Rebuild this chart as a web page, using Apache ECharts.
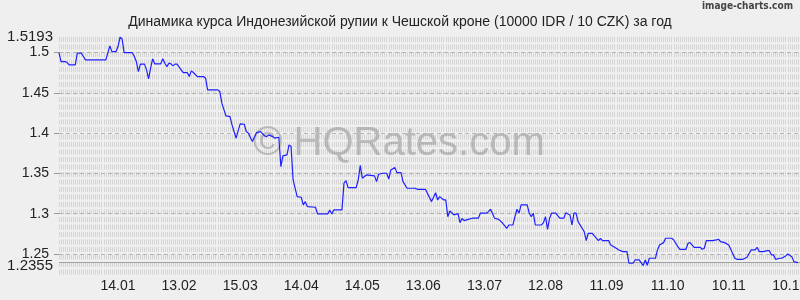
<!DOCTYPE html>
<html><head><meta charset="utf-8">
<script src="https://cdn.jsdelivr.net/npm/echarts@6/dist/echarts.min.js"></script>
<style>html,body{margin:0;padding:0;background:#efefef}#c{width:800px;height:300px}</style>
</head><body><div id="c"></div>
<script>
// Day offsets from 16.12.2013 and rate values (10000 IDR / 10 CZK)
const dayIndex = [
  0,1,3,4,5,8,9,11,13,23,
  25,26,28,29,30,31,32,36,37,38,
  39,40,42,43,44,45,46,47,50,51,
  52,53,54,55,56,57,58,61,63,64,
  65,66,68,71,72,73,78,79,80,82,
  84,85,87,88,89,91,92,93,95,97,
  99,101,102,103,105,106,108,109,110,112,
  113,114,115,117,119,120,121,122,126,127,
  132,133,134,135,139,140,141,142,146,147,
  148,149,151,155,156,157,159,161,162,163,
  165,166,168,169,171,175,176,180,183,184,
  185,186,187,189,190,191,192,194,196,197,
  198,199,201,203,206,207,210,211,212,214,
  216,218,220,221,223,224,225,226,227,230,
  231,232,233,234,237,238,239,240,241,242,
  244,246,248,249,251,252,253,254,255,257,
  258,259,260,262,263,265,266,267,270,271,
  273,275,277,279,280,282,283,285,287,288,
  289,290,293,294,295,297,298,301,302,304,
  305,308,309,310,312,315,316,317,318,321,
  323,324,325,327,329,330,332,333,336,337,
  338,340,342,343,344,346,348,349,350,351,
  352,354,355,357,358,360,361,363
];
const rate = [
  1.5000,1.4888,1.4888,1.4876,1.4847,1.4847,1.4992,1.4992,1.4909,1.4909,
  1.5083,1.5012,1.5012,1.5075,1.5193,1.5166,1.5000,1.5000,1.4950,1.4888,
  1.4764,1.4856,1.4856,1.4785,1.4673,1.4806,1.4922,1.4860,1.4860,1.4922,
  1.4868,1.4826,1.4868,1.4860,1.4835,1.4856,1.4856,1.4752,1.4752,1.4702,
  1.4773,1.4752,1.4702,1.4702,1.4682,1.4537,1.4537,1.4516,1.4372,1.4214,
  1.4205,1.4102,1.3937,1.4028,1.4115,1.4110,1.4020,1.4000,1.3895,1.4006,
  1.4019,1.3966,1.3957,1.3978,1.3957,1.3937,1.3949,1.3584,1.3717,1.3730,
  1.3854,1.3834,1.3419,1.3212,1.3204,1.3110,1.3150,1.3088,1.3080,1.2997,
  1.2997,1.3047,1.2997,1.3047,1.3047,1.3378,1.3410,1.3324,1.3324,1.3420,
  1.3600,1.3440,1.3481,1.3469,1.3398,1.3490,1.3502,1.3502,1.3430,1.3543,
  1.3572,1.3510,1.3510,1.3398,1.3316,1.3316,1.3303,1.3303,1.3150,1.3205,
  1.3261,1.3170,1.3212,1.3171,1.3171,1.2963,1.3034,1.2985,1.3000,1.2889,
  1.2940,1.2914,1.2930,1.2944,1.2944,1.3006,1.3006,1.3026,1.3055,1.2944,
  1.2930,1.2881,1.2819,1.2860,1.2860,1.2963,1.3055,1.3006,1.3109,1.3109,
  1.3006,1.2963,1.3006,1.2860,1.2860,1.2889,1.2963,1.2806,1.2944,1.3006,
  1.3006,1.2944,1.2944,1.3013,1.2985,1.2860,1.3006,1.3006,1.2902,1.2819,
  1.2777,1.2666,1.2757,1.2757,1.2724,1.2666,1.2695,1.2666,1.2666,1.2612,
  1.2583,1.2550,1.2529,1.2529,1.2385,1.2385,1.2426,1.2426,1.2355,1.2426,
  1.2360,1.2447,1.2447,1.2550,1.2612,1.2641,1.2695,1.2695,1.2674,1.2591,
  1.2558,1.2558,1.2633,1.2641,1.2583,1.2583,1.2558,1.2571,1.2666,1.2666,
  1.2674,1.2683,1.2654,1.2641,1.2612,1.2558,1.2447,1.2434,1.2434,1.2447,
  1.2459,1.2550,1.2550,1.2583,1.2529,1.2529,1.2541,1.2541,1.2488,1.2488,
  1.2434,1.2447,1.2447,1.2476,1.2500,1.2467,1.2405,1.2392
];
const xTickDays = [29,59,89,119,149,179,209,239,269,299,329,359];
const xTickLabels = ['14.01','13.02','15.03','14.04','14.05','13.06','13.07','12.08','11.09','11.10','10.11','10.12'];
const yTicks = [1.25,1.3,1.35,1.4,1.45,1.5];
const yExtremes = [1.2355,1.5193];
const title = 'Динамика курса Индонезийской рупии к Чешской кроне (10000 IDR / 10 CZK) за год';

const yMin = 1.2233, yMax = 1.5193;
const seriesData = dayIndex.map((d, i) => [d, rate[i]]);
const labelMap = {};
xTickDays.forEach((d, i) => { labelMap[d] = xTickLabels[i]; });

const FONT = '"Liberation Sans", Arial, sans-serif';
const chart = echarts.init(document.getElementById('c'), null, {renderer: 'canvas'});
chart.setOption({
  backgroundColor: '#efefef',
  animation: false,
  title: {
    text: title, left: 'center', top: 10,
    textStyle: {fontFamily: FONT, fontSize: 14, fontWeight: 'normal', color: '#222'}
  },
  graphic: [
    {type: 'text', right: 7, top: 1, z: 10,
     style: {text: 'image-charts.com', font: 'bold 10px "DejaVu Sans Condensed", sans-serif', fill: '#444'}},
    {type: 'text', left: 253, top: 124, z: 1, silent: true,
     style: {text: '© HQRates.com', font: '40px "Liberation Sans", Arial, sans-serif', fill: 'rgba(140,140,140,0.5)'}}
  ],
  grid: {left: 59, top: 37, width: 743, height: 238.5, outerBoundsMode: 'none', containLabel: false},
  xAxis: {
    type: 'value', min: 0, max: 365, interval: 1,
    axisLine: {show: false}, axisTick: {show: false},
    axisLabel: {customValues: xTickDays, formatter: v => labelMap[v] || '',
      fontFamily: FONT, fontSize: 14, color: '#222', margin: 4, hideOverlap: false},
    splitLine: {show: true, lineStyle: {color: '#d5d5d5', width: 1, type: [5, 2.5]}}
  },
  yAxis: [
    {type: 'value', min: yMin, max: yMax,
     axisLine: {show: false},
     axisTick: {show: true, customValues: yTicks, length: 5, lineStyle: {color: '#999'}},
     axisLabel: {customValues: yTicks, formatter: v => String(+v.toFixed(4)), fontFamily: FONT, fontSize: 14, color: '#222', margin: 10},
     splitLine: {show: false}},
    {type: 'value', min: yMin, max: yMax, position: 'left',
     axisLine: {show: false}, axisTick: {show: false},
     axisLabel: {customValues: yExtremes, formatter: v => String(+v.toFixed(4)), fontFamily: FONT, fontSize: 15, color: '#222', margin: 6},
     splitLine: {show: false}}
  ],
  series: [{
    type: 'line', data: seriesData, yAxisIndex: 0, z: 5,
    showSymbol: false, symbol: 'none',
    lineStyle: {color: '#2020ff', width: 1.2},
    markLine: {
      silent: true, symbol: 'none', label: {show: false},
      lineStyle: {color: '#b4b4b4', type: [4, 3], width: 1},
      data: yTicks.map(v => ({yAxis: v})).concat([{yAxis: yExtremes[0], lineStyle: {color: '#a0a0a0', type: 'solid'}}])
    }
  }]
});
</script></body></html>
